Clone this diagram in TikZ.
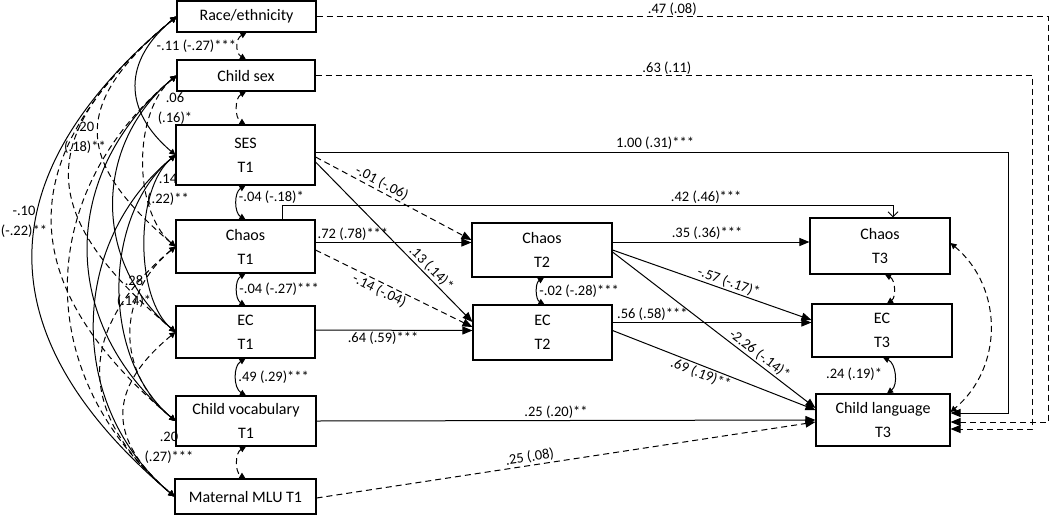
\documentclass[tikz,border=0pt]{standalone}
\usepackage{fontspec}
\setmainfont{Carlito}
\usetikzlibrary{arrows.meta}
\usetikzlibrary{positioning}

\tikzset{
  var/.style={draw, line width=1.1pt, align=center, inner sep=0pt,
    font=\fontsize{16}{24}\selectfont},
  reg/.style={-{Triangle[length=10pt,width=8pt]}, line width=1pt},
  cov/.style={{Triangle[length=6pt,width=6pt]}-{Triangle[length=6pt,width=6pt]}, line width=1pt},
  nsig/.style={dash pattern=on 6pt off 4pt},
  coef/.style={font=\fontsize{14.5}{20}\selectfont, inner sep=1.5pt, align=center},
}

\begin{document}
\begin{tikzpicture}[x=1pt,y=-1pt,line cap=butt,line join=miter]
\useasboundingbox (0,0) rectangle (1050,515);

% T1 column
\node[var, minimum width=139pt, minimum height=31pt] (race) at (246.5,16.5) {Race/ethnicity};
\node[var, minimum width=138pt, minimum height=31pt] (sex) at (246,75.5) {Child sex};
\node[var, minimum width=139pt, minimum height=60pt] (ses) at (245.5,155) {SES\\T1};
\node[var, minimum width=139pt, minimum height=53pt] (chaos1) at (245.5,246.5) {Chaos\\T1};
\node[var, minimum width=139pt, minimum height=52pt] (ec1) at (245.5,332) {EC\\T1};
\node[var, minimum width=140pt, minimum height=50pt] (vocab) at (246,421) {Child vocabulary\\T1};
\node[var, minimum width=141pt, minimum height=35pt] (mlu) at (245.5,496.5) {Maternal MLU T1};
% T2 column
\node[var, minimum width=140pt, minimum height=54pt] (chaos2) at (542,250) {Chaos\\T2};
\node[var, minimum width=139pt, minimum height=55pt] (ec2) at (542.5,332.5) {EC\\T2};
% T3 column
\node[var, minimum width=140pt, minimum height=56pt] (chaos3) at (880,246) {Chaos\\T3};
\node[var, minimum width=140pt, minimum height=53pt] (ec3) at (882,330.5) {EC\\T3};
\node[var, minimum width=134pt, minimum height=52pt] (lang) at (883,420) {Child language\\T3};

% long paths round the right side
\draw[reg,nsig] (race.east) -- ++(732,0) node[coef, above, pos=0.486, inner sep=0.5pt] {.47 (.08)} |- ([yshift=-2pt]lang.east);
\draw[reg,nsig] (sex.east) -- ++(717,0) node[coef, above, pos=0.49, inner sep=0.5pt] {.63 (.11)} |- ([yshift=-9pt]lang.east);
\draw[reg] ([yshift=3pt]ses.east) -- ++(693,0) node[coef, above, pos=0.49] {1.00 (.31)***} |- ([yshift=7pt]lang.east);
\draw[line width=1pt, -{Straight Barb[length=5pt,width=10pt]}] ([xshift=37pt]chaos1.north) -- ++(0,-14)
  -| node[coef, above, pos=0.347] {.42 (.46)***} ([xshift=13pt]chaos3.north);

% T1 -> T2
\draw[reg] ([yshift=4pt]chaos1.east) -- ([yshift=7.5pt]chaos2.west) node[coef, above, pos=0.24] {.72 (.78)***};
\draw[reg,nsig] ([yshift=-2pt]ses.east) -- ([yshift=10pt]chaos2.west) node[coef, sloped, above, pos=0.4] {-.01 (-.06)};
\draw[reg] ([yshift=-7pt]ses.east) -- ([yshift=10.5pt]ec2.west) node[coef, sloped, above, pos=0.7] {.13 (.14)*};
\draw[reg,nsig] ([yshift=-3.5pt]chaos1.east) -- ([yshift=5.5pt]ec2.west) node[coef, sloped, below, pos=0.43] {-.14 (-.04)};
\draw[reg] ([yshift=2pt]ec1.east) -- ([yshift=2pt]ec2.west) node[coef, below, pos=0.43] {.64 (.59)***};

% T2 -> T3
\draw[reg] ([yshift=8pt]chaos2.east) -- ([yshift=4pt]chaos3.west) node[coef, above, pos=0.48] {.35 (.36)***};
\draw[reg] (chaos2.east) -- ([yshift=10.5pt]ec3.west) node[coef, sloped, above, pos=0.57] {-.57 (-.17)*};
\draw[reg] ([yshift=-2pt]chaos2.east) -- ([yshift=12pt]lang.west) node[coef, sloped, above, pos=0.7] {-2.26 (-.14)*};
\draw[reg] ([yshift=10pt]ec2.east) -- ([yshift=8pt]ec3.west) node[coef, above, pos=0.2] {.56 (.58)***};
\draw[reg] ([yshift=2pt]ec2.east) -- ([yshift=10pt]lang.west) node[coef, sloped, below, pos=0.45] {.69 (.19)**};

% T1 -> T3
\draw[reg] (vocab.east) -- (lang.west) node[coef, above, pos=0.48] {.25 (.20)**};
\draw[reg,nsig] ([yshift=-1.5pt]mlu.east) -- ([yshift=-2pt]lang.west) node[coef, sloped, above, pos=0.43] {.25 (.08)};

% covariances between neighbours
\draw[cov,nsig] (race.south) to[bend right=60, looseness=1.2] node[coef, left] {-.11 (-.27)***} (sex.north);
\draw[cov,nsig] (sex.south) to[bend right=60] (ses.north);
\draw[cov] (ses.south) to[bend right=60] node[coef, right, yshift=5pt] {-.04 (-.18)*} (chaos1.north);
\draw[cov] (chaos1.south) to[bend right=60] node[coef, right] {-.04 (-.27)***} (ec1.north);
\draw[cov] (ec1.south) to[bend right=60] node[coef, right] {.49 (.29)***} (vocab.north);
\draw[cov,nsig] (vocab.south) to[bend right=60] (mlu.north);
\draw[cov] ([xshift=2pt]chaos2.south) to[bend right=60] node[coef, right] {-.02 (-.28)***} ([xshift=2pt]ec2.north);
\draw[cov,nsig] ([xshift=5pt]chaos3.south) to[bend left=60] ([xshift=5pt]ec3.north);
\draw[cov] ([xshift=1pt]ec3.south) to[bend left=60] node[coef, left=10pt] {.24 (.19)*} ([xshift=4pt]lang.north);
\draw[cov,nsig] ([yshift=3pt]chaos3.east) to[bend left=50, looseness=1.05] ([yshift=8pt]lang.east);

% covariances among the T1 variables, on the left
\foreach \a/\b/\s/\l in {race/ses/solid/1.28, race/chaos1/nsig/1.5, race/ec1/nsig/1.5,
    race/vocab/nsig/1.36, race/mlu/solid/1.32, sex/chaos1/nsig/0.84, sex/ec1/solid/1.08,
    sex/vocab/solid/1.13, sex/mlu/nsig/1.13, ses/ec1/solid/0.77, ses/vocab/solid/0.93,
    ses/mlu/solid/1.05, chaos1/vocab/nsig/1.14, chaos1/mlu/nsig/1.32, ec1/mlu/nsig/1.38}
  \draw[cov,\s] (\a.west) to[bend right=50, looseness=\l] (\b.west);

\node[coef] (c1) at (24,221.5) {-.10\\(-.22)**};
\node[coef] (c2) at (85,138) {.20\\(.18)**};
\node[coef] (c3) at (175,108.5) {.06\\(.16)*};
\node[coef] (c4) at (168,190) {.14\\(.22)**};
\node[coef] (c5) at (134,291.5) {.28\\(.14)*};
\node[coef] (c6) at (169,448) {.20\\(.27)***};
\end{tikzpicture}
\end{document}
